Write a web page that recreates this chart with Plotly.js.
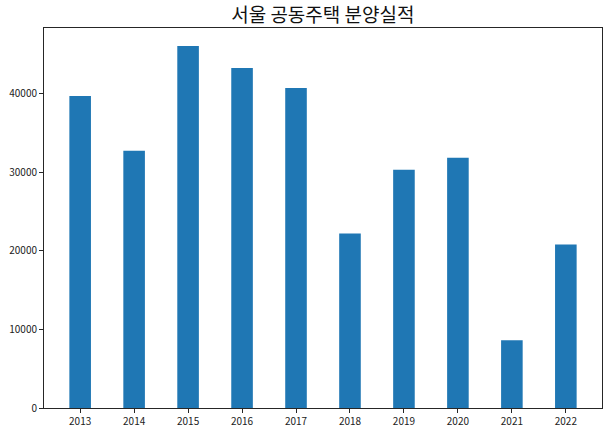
<!DOCTYPE html>
<html>
<head>
<meta charset="utf-8">
<script src="https://cdn.plot.ly/plotly-3.0.1.min.js"></script>
<style>
  html, body { margin: 0; padding: 0; background: #fff; }
  #chart { width: 608px; height: 432px; }
</style>
</head>
<body>
<div id="chart"></div>
<script>
// 서울 공동주택 분양실적 (연도별)
const years = ["2013", "2014", "2015", "2016", "2017", "2018", "2019", "2020", "2021", "2022"];
const supply = [39750, 32760, 46100, 43300, 40760, 22210, 30340, 31870, 8615, 20810];

const FONT = '"Noto Sans CJK KR", "Noto Sans", sans-serif';
const AXIS_COLOR = "#262626";

const traces = [
  {
    x: years,
    y: supply,
    type: "bar",
    marker: { color: "#1f77b4" },
    hovertemplate: "%{x}<br>%{y}<extra></extra>",
  },
];

const axisBase = {
  showgrid: false,
  zeroline: false,
  showline: true,
  mirror: true,
  linecolor: AXIS_COLOR,
  linewidth: 1,
  ticks: "outside",
  ticklen: 4,
  tickwidth: 1,
  tickcolor: AXIS_COLOR,
  tickfont: { family: FONT, size: 10, color: "#222" },
};

const layout = {
  width: 608,
  height: 432,
  paper_bgcolor: "#fff",
  plot_bgcolor: "#fff",
  margin: { l: 44, r: 6, t: 28, b: 24 },
  bargap: 0.6,
  showlegend: false,
  title: {
    text: "서울 공동주택 분양실적",
    font: { family: FONT, size: 19, color: "#111" },
    x: 0.531,
    xanchor: "center",
    y: 0.965,
    yanchor: "middle",
  },
  xaxis: {
    ...axisBase,
    type: "category",
    range: [-0.67, 9.67],
  },
  yaxis: {
    ...axisBase,
    range: [0, 48400],
    dtick: 10000,
    tick0: 0,
    tickformat: "d",
  },
};

Plotly.newPlot("chart", traces, layout, { displayModeBar: false, responsive: false });
</script>
</body>
</html>
